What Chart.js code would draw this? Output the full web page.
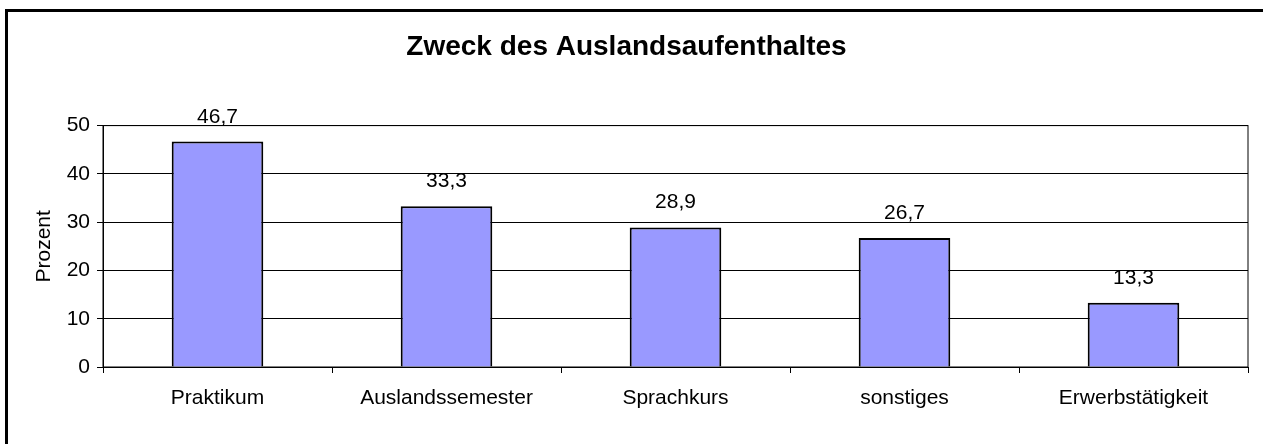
<!DOCTYPE html>
<html>
<head>
<meta charset="utf-8">
<script src="https://cdn.jsdelivr.net/npm/chart.js@4.4.1/dist/chart.umd.min.js"></script>
<style>
  html, body { margin: 0; padding: 0; background: #fff; }
  #wrap { width: 1263px; height: 444px; }
</style>
</head>
<body>
<div id="wrap"><canvas id="grafik" width="1263" height="444"></canvas></div>
<script>
// Zweck des Auslandsaufenthaltes
const kategorien = ["Praktikum", "Auslandssemester", "Sprachkurs", "sonstiges", "Erwerbstätigkeit"];
const prozent    = [46.7, 33.3, 28.9, 26.7, 13.3];
const yMin = 0, yMax = 50, yStep = 10;

const FONT = "'Liberation Sans', Arial, sans-serif";

const rahmenPlugin = {
  id: "rahmen",
  beforeDraw(chart) {
    const ctx = chart.ctx;
    ctx.save();
    ctx.fillStyle = "#fff";
    ctx.fillRect(0, 0, chart.width, chart.height);
    ctx.fillStyle = "#000";
    ctx.fillRect(5, 9, chart.width, 3);
    ctx.fillRect(5, 9, 3, chart.height);
    ctx.restore();
  },
  beforeDatasetsDraw(chart) {
    const { ctx, chartArea: a } = chart;
    ctx.save();
    ctx.strokeStyle = "#000";
    ctx.lineWidth = 1;
    ctx.strokeRect(a.left, a.top, a.right - a.left, a.bottom - a.top);
    ctx.restore();
  }
};

const werteLabels = {
  id: "werteLabels",
  afterDatasetsDraw(chart) {
    const ctx = chart.ctx;
    const meta = chart.getDatasetMeta(0);
    ctx.save();
    ctx.fillStyle = "#000";
    ctx.font = "21px " + FONT;
    ctx.textAlign = "center";
    ctx.textBaseline = "alphabetic";
    meta.data.forEach((bar, i) => {
      ctx.fillText(prozent[i].toFixed(1).replace(".", ","), bar.x, bar.y - 19);
    });
    ctx.restore();
  }
};

new Chart(document.getElementById("grafik"), {
  type: "bar",
  data: {
    labels: kategorien,
    datasets: [{
      data: prozent,
      backgroundColor: "#9999ff",
      borderColor: "#000",
      borderWidth: 2,
      categoryPercentage: 1,
      barPercentage: 0.4
    }]
  },
  options: {
    responsive: false,
    animation: false,
    layout: { padding: { left: 5, right: 15, top: 0, bottom: 0 } },
    plugins: {
      legend: { display: false },
      tooltip: { enabled: false },
      title: {
        display: true,
        text: "Zweck des Auslandsaufenthaltes",
        color: "#000",
        font: { family: FONT, size: 28, weight: "bold" },
        padding: { top: 30, bottom: 62 }
      }
    },
    scales: {
      x: {
        grid: { offset: true, drawOnChartArea: false, color: "#000", tickLength: 6 },
        border: { color: "#000" },
        ticks: { color: "#000", font: { family: FONT, size: 21 }, padding: 13, maxRotation: 0 },
        afterFit: s => { s.height = 77; }
      },
      y: {
        min: yMin,
        max: yMax,
        ticks: { stepSize: yStep, color: "#000", font: { family: FONT, size: 21 }, padding: 7 },
        grid: { color: "#000", tickLength: 6 },
        border: { color: "#000" },
        title: {
          display: true,
          text: "Prozent",
          color: "#000",
          font: { family: FONT, size: 21 },
          padding: { top: 27, bottom: 0 }
        },
        afterFit: s => { s.width = 98; }
      }
    }
  },
  plugins: [rahmenPlugin, werteLabels]
});
</script>
</body>
</html>
